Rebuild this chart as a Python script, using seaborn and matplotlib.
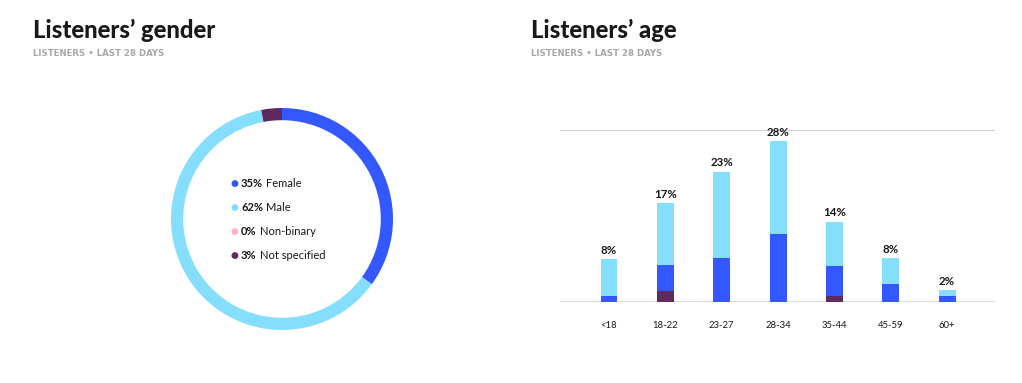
import numpy as np
import pandas as pd
import matplotlib
matplotlib.use("Agg")
import matplotlib.pyplot as plt
import seaborn as sns

# gender split (%)
genders = ['Female', 'Male', 'Non-binary', 'Not specified']
gender_pct = [35, 62, 0, 3]
gender_colors = ['#3358FF', '#86DEFF', '#FFB5C2', '#5E2A5F']

# age split (%), stacked by gender
ages = ['<18', '18-22', '23-27', '28-34', '35-44', '45-59', '60+']
age_total = [8, 17, 23, 28, 14, 8, 2]
age_female = [1.0, 4.4, 7.6, 11.8, 5.3, 3.2, 1.0]
age_male = [6.5, 10.8, 15.1, 16.2, 7.7, 4.4, 1.1]
age_notspec = [0, 2.0, 0, 0, 1.0, 0, 0]

sns.set_theme(style='white')
plt.rcParams['font.family'] = ['Lato', 'DejaVu Sans']

W, H = 1022, 383
fig = plt.figure(figsize=(W / 100, H / 100), dpi=100)
fig.patch.set_facecolor('white')


def px_axes(x0, y0, x1, y1):
    # pixel box (top-left origin) -> figure axes
    return fig.add_axes([x0 / W, 1 - y1 / H, (x1 - x0) / W, (y1 - y0) / H])


# titles
for x, title in [(33, 'Listeners’ gender'), (531, 'Listeners’ age')]:
    fig.text(x / W, 1 - 30 / H, title, fontsize=17.2, fontweight='black',
             color='#181818', va='center', ha='left')
    fig.text(x / W, 1 - 54 / H, 'LISTENERS • LAST 28 DAYS', fontsize=6.2,
             fontweight='bold', color='#A8A8A8', va='center', ha='left',
             family='DejaVu Sans')

# donut
ax1 = px_axes(171, 108, 393, 330)
ax1.pie(gender_pct, colors=gender_colors, startangle=90, counterclock=False,
        radius=1, wedgeprops=dict(width=0.11, linewidth=0))
ax1.set_xlim(-1, 1)
ax1.set_ylim(-1, 1)
ax1.set_aspect('equal')
ax1.axis('off')

fig.canvas.draw()
renderer = fig.canvas.get_renderer()
for i, (g, p, c) in enumerate(zip(genders, gender_pct, gender_colors)):
    y = 1 - (184 + i * 23.7) / H
    fig.text(234 / W, y, '●', fontsize=6.5, color=c, ha='center', va='center',
             family='DejaVu Sans')
    t = fig.text(241 / W, y, f'{p}%', fontsize=8, fontweight='bold',
                 color='#181818', ha='left', va='center')
    bb = t.get_window_extent(renderer)
    fig.text((bb.x1 + 3) / W, y, g, fontsize=8, color='#181818',
             ha='left', va='center')

# stacked age bars
df = pd.DataFrame({'age': ages, 'total': age_total, 'female': age_female,
                   'male': age_male, 'notspec': age_notspec})
df['fem_top'] = df['notspec'] + df['female']
df['male_top'] = df['fem_top'] + df['male']

ax2 = px_axes(560, 130, 995, 302)
for col, color in [('male_top', gender_colors[1]), ('fem_top', gender_colors[0]),
                   ('notspec', gender_colors[3])]:
    sns.barplot(data=df, x='age', y=col, color=color, width=0.3,
                saturation=1, ax=ax2, linewidth=0)

for i, row in df.iterrows():
    ax2.text(i, row['male_top'] + 0.6, f"{row['total']}%", ha='center',
             va='bottom', fontsize=8.3, fontweight='bold', color='#181818')

ax2.set_ylim(0, 30)
ax2.set_xlim(-0.87, 6.85)
ax2.axhline(30, color='#CFCFCF', lw=1, zorder=0)
ax2.axhline(0, color='#D5D5D5', lw=1.2, zorder=0)
ax2.set_yticks([])
ax2.set_xlabel('')
ax2.set_ylabel('')
ax2.tick_params(axis='x', length=0, pad=14, labelsize=6.8, labelcolor='#181818')
for s in ax2.spines.values():
    s.set_visible(False)
ax2.set_facecolor('none')

fig.savefig('out.png', dpi=100, facecolor='white')
